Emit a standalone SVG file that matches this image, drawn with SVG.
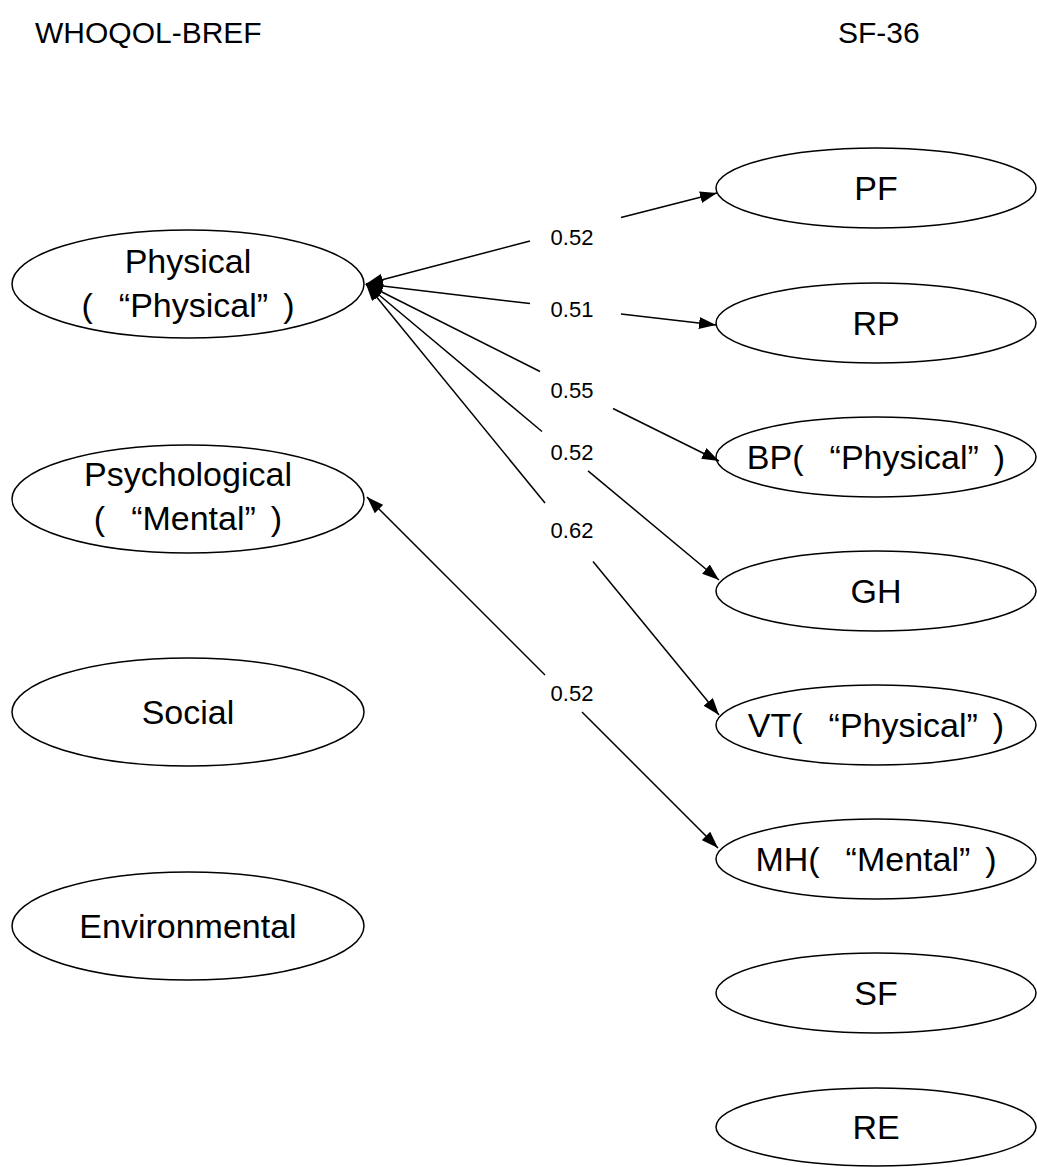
<svg xmlns="http://www.w3.org/2000/svg" width="1037" height="1167" viewBox="0 0 1037 1167">
<style>
.node ellipse{fill:#fff;stroke:#000;stroke-width:1.5}
.t{font-family:"Liberation Sans",Arial,"Noto Sans CJK SC",sans-serif;font-size:34px;fill:#000;text-anchor:middle}
.title{font-family:"Liberation Sans",Arial,sans-serif;font-size:30px;fill:#000}
.lab{font-family:"Liberation Sans",Arial,sans-serif;font-size:22px;fill:#000;text-anchor:middle}
.e line{stroke:#000;stroke-width:1.5;fill:none}
</style>
<defs>
<marker id="ah" markerUnits="userSpaceOnUse" markerWidth="18" markerHeight="12" refX="17" refY="6" orient="auto-start-reverse" viewBox="0 0 18 12">
<path d="M0,0 L17,6 L0,12 z" fill="#000"/>
</marker>
</defs>
<text class="title" x="35" y="43">WHOQOL-BREF</text>
<text class="title" x="838" y="43">SF-36</text>
<g id="n-physical" class="node"><ellipse cx="188" cy="284" rx="176" ry="54"/><text class="t" x="188" y="273">Physical</text><text class="t" x="188" y="317">(<tspan dx="26">“</tspan>Physical”<tspan dx="15">)</tspan></text></g>
<g id="n-psych" class="node"><ellipse cx="188" cy="499" rx="176" ry="54"/><text class="t" x="188" y="486">Psychological</text><text class="t" x="188" y="530">(<tspan dx="26">“</tspan>Mental”<tspan dx="15">)</tspan></text></g>
<g id="n-social" class="node"><ellipse cx="188" cy="712" rx="176" ry="54"/><text class="t" x="188" y="724">Social</text></g>
<g id="n-env" class="node"><ellipse cx="188" cy="926" rx="176" ry="54"/><text class="t" x="188" y="938">Environmental</text></g>
<g id="n-pf" class="node"><ellipse cx="876" cy="188" rx="160" ry="40"/><text class="t" x="876" y="200">PF</text></g>
<g id="n-rp" class="node"><ellipse cx="876" cy="323" rx="160" ry="40"/><text class="t" x="876" y="335">RP</text></g>
<g id="n-bp" class="node"><ellipse cx="876" cy="457" rx="160" ry="40"/><text class="t" x="876" y="469">BP(<tspan dx="26">“</tspan>Physical”<tspan dx="15">)</tspan></text></g>
<g id="n-gh" class="node"><ellipse cx="876" cy="591" rx="160" ry="40"/><text class="t" x="876" y="603">GH</text></g>
<g id="n-vt" class="node"><ellipse cx="876" cy="725" rx="160" ry="40"/><text class="t" x="876" y="737">VT(<tspan dx="26">“</tspan>Physical”<tspan dx="15">)</tspan></text></g>
<g id="n-mh" class="node"><ellipse cx="876" cy="859" rx="160" ry="40"/><text class="t" x="876" y="871">MH(<tspan dx="26">“</tspan>Mental”<tspan dx="15">)</tspan></text></g>
<g id="n-sf" class="node"><ellipse cx="876" cy="993" rx="160" ry="40"/><text class="t" x="876" y="1005">SF</text></g>
<g id="n-re" class="node"><ellipse cx="876" cy="1127" rx="160" ry="39"/><text class="t" x="876" y="1139">RE</text></g>
<g id="edges" class="e">
<line x1="530" y1="241" x2="366" y2="284" marker-end="url(#ah)"/><line x1="621" y1="217.5" x2="717" y2="193" marker-end="url(#ah)"/>
<line x1="530" y1="303.6" x2="366" y2="284" marker-end="url(#ah)"/><line x1="621" y1="314" x2="716" y2="325" marker-end="url(#ah)"/>
<line x1="540" y1="371.5" x2="366" y2="284" marker-end="url(#ah)"/><line x1="613" y1="408.5" x2="719" y2="461" marker-end="url(#ah)"/>
<line x1="542" y1="431.5" x2="366" y2="284" marker-end="url(#ah)"/><line x1="588" y1="470.8" x2="719" y2="580" marker-end="url(#ah)"/>
<line x1="545" y1="503" x2="366" y2="284" marker-end="url(#ah)"/><line x1="593" y1="561.5" x2="719" y2="715" marker-end="url(#ah)"/>
<line x1="545" y1="675" x2="367" y2="497" marker-end="url(#ah)"/><line x1="582" y1="712" x2="718" y2="848" marker-end="url(#ah)"/>
<text class="lab" x="572" y="245">0.52</text>
<text class="lab" x="572" y="317">0.51</text>
<text class="lab" x="572" y="398">0.55</text>
<text class="lab" x="572" y="460">0.52</text>
<text class="lab" x="572" y="538">0.62</text>
<text class="lab" x="572" y="701">0.52</text>
</g>
</svg>
